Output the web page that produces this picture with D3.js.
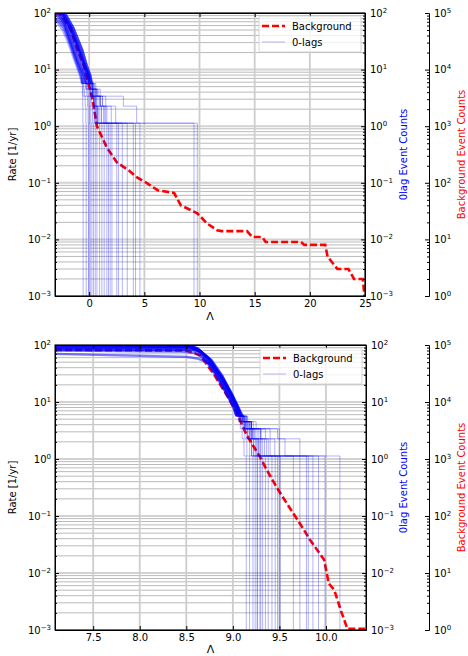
<!DOCTYPE html>
<html>
<head>
<meta charset="utf-8">
<script src="https://cdn.jsdelivr.net/npm/d3@7"></script>
<style>
  body { margin: 0; background: #fff; }
  text { font-family: "DejaVu Sans", sans-serif; }
</style>
</head>
<body>
<svg id="chart" width="468" height="656"></svg>
<script>
// ---- data ----
const rateTicks = [1e-3, 1e-2, 1e-1, 1e0, 1e1, 1e2];
const countTicks = [1e0, 1e1, 1e2, 1e3, 1e4, 1e5];
const plateauRates = [1.13, 2.26, 3.39, 4.52, 5.65]; // 1..5 zero-lag events
const floorRate = 1e-4; // zero events, falls off the log axis

// top panel
const topXDomain = [-3.1, 25];
const topXTicks = [0, 5, 10, 15, 20, 25];
const topBgLambda = [-3.1, -2.6, -1.7, -1.1, -0.5, -0.1, 0.3, 0.7, 1.6, 2.5, 3.6, 4.3, 5.2, 6.2, 7.7, 8.3, 9.8, 10.7, 11.6, 12.0, 14.3, 14.8, 15.7, 16.0, 19.2, 19.5, 21.4, 21.6, 22.5, 23.5, 24.0, 24.8, 25.0];
const topBgRate = [100, 95, 52, 23, 12, 6, 3, 1.0, 0.42, 0.23, 0.165, 0.126, 0.10, 0.074, 0.066, 0.04, 0.029, 0.019, 0.0145, 0.014, 0.014, 0.011, 0.011, 0.009, 0.009, 0.008, 0.008, 0.005, 0.003, 0.003, 0.002, 0.002, 0.0008];
const topBandLambda = [
  [-3.1, -2.75, -2.3, -1.8, -1.2, -0.75],
  [-3.1, -2.85, -2.25, -1.7, -1.1, -0.62],
  [-3.1, -2.8, -2.2, -1.6, -1.0, -0.5],
  [-3.1, -2.65, -2.0, -1.35, -0.75, -0.35],
  [-3.1, -2.5, -1.8, -1.1, -0.5, -0.15],
  [-3.1, -2.4, -1.65, -0.95, -0.4, -0.05],
  [-3.1, -2.2, -1.43, -0.66, -0.21, 0.09],
  [-3.1, -2.9, -2.4, -1.9, -1.3, -0.85]
];
const topBandRate = [
  [80, 70, 55, 31, 14, 8],
  [95, 85, 60, 30, 14, 8],
  [105, 95, 62, 30, 13.5, 8],
  [110, 98, 60, 28, 13, 8],
  [115, 100, 58, 27, 12.5, 8],
  [118, 100, 56, 25, 12, 8],
  [120, 100, 54, 23, 11.5, 8],
  [75, 68, 50, 30, 14, 8]
];
const topLagBand = [7, 1, 2, 3, 4, 5, 6, 5, 4, 3, 6, 0, 4, 2, 6, 5, 3, 1, 5, 0, 4, 6, 2, 5];
const topLagKnee = [-0.65, -0.6, -0.4, -0.3, -0.05, 0.0, 0.2, 0.25, 0.0, -0.3, 0.2, -0.6, -0.05, -0.35, 0.25, 0.0, -0.3, -0.6, 0.2, -0.6, 0.0, 0.3, -0.3, 0.05];
const topLagDrops = [
  [-0.63, -0.61, -0.59, -0.57, -0.55],
  [-0.5, -0.42, -0.36, -0.3, -0.27],
  [-0.3, -0.22, -0.15, -0.1, -0.06],
  [-0.2, -0.1, -0.02, 0.04, 0.09],
  [0.0, 0.05, 0.1, 0.15, 0.24],
  [0.05, 0.12, 0.2, 0.3, 0.39],
  [0.25, 0.3, 0.38, 0.45, 0.55],
  [0.3, 0.38, 0.45, 0.5, 0.7],
  [0.15, 0.3, 0.45, 0.6, 0.94],
  [0.0, 0.2, 0.4, 0.6, 1.15],
  [0.3, 0.45, 0.6, 0.75, 1.36],
  [-0.3, 0.1, 0.4, 0.7, 1.75],
  [0.2, 0.45, 0.6, 0.8, 1.9],
  [0.1, 0.3, 0.5, 0.7, 2.06],
  [0.5, 0.7, 0.9, 1.1, 2.5],
  [0.3, 0.6, 1.0, 1.4, 2.66],
  [0.2, 0.6, 1.2, 1.6, 3.45],
  [-0.2, 0.3, 0.6, 0.9, 4.0],
  [0.4, 0.7, 1.0, 1.3, 4.2],
  [-0.57, -0.55, 3.1, 4.3, 9.5],
  [0.3, 0.6, 1.0, 2.0, 9.8],
  [0.6, 1.0, 1.5, 2.4, 4.6],
  [0.0, 0.4, 0.7, 1.1, 3.0],
  [0.4, 0.8, 1.2, 1.5, 1.6]
];

// bottom panel
const botXDomain = [7.09, 10.43];
const botXTicks = [7.5, 8.0, 8.5, 9.0, 9.5, 10.0];
const botBgLambda = [7.09, 8.5, 8.65, 8.8, 8.95, 9.05, 9.15, 9.29, 9.365, 9.47, 9.58, 9.72, 9.83, 9.98, 10.03, 10.09, 10.16, 10.23, 10.43];
const botBgRate = [82, 80, 66, 30, 12, 6, 2.6, 1.1, 0.64, 0.32, 0.166, 0.074, 0.038, 0.017, 0.0066, 0.005, 0.0022, 0.00105, 0.00105];
const botBandLambda = [
  [7.09, 8.48, 8.58, 8.68, 8.8, 8.92, 9.0],
  [7.09, 8.5, 8.6, 8.7, 8.82, 8.93, 9.01],
  [7.09, 8.52, 8.62, 8.72, 8.84, 8.95, 9.03],
  [7.09, 8.54, 8.63, 8.74, 8.86, 8.97, 9.04],
  [7.09, 8.55, 8.64, 8.75, 8.87, 8.98, 9.05],
  [7.09, 8.56, 8.66, 8.77, 8.89, 8.99, 9.06],
  [7.09, 8.5, 8.62, 8.78, 8.9, 9.0, 9.07],
  [7.09, 8.45, 8.6, 8.72, 8.85, 8.96, 9.04]
];
const botBandRate = [
  [104, 100, 92, 62, 32, 15, 8.5],
  [101, 98, 90, 61, 31, 14.5, 8.2],
  [98, 95, 88, 60, 30, 14, 8],
  [95, 92, 84, 58, 30, 14, 8],
  [90, 88, 80, 56, 29, 14, 8],
  [84, 82, 76, 54, 28, 13.5, 7.8],
  [70, 62, 58, 45, 25, 13, 7.5],
  [80, 77, 72, 52, 28, 13.5, 8]
];
const botLagBand = [0, 1, 2, 3, 4, 5, 6, 5, 1, 2, 4, 4, 3, 5, 0, 2, 4, 7, 1, 3, 5, 6, 7, 3];
const botLagKnee = [9.04, 9.04, 9.06, 9.07, 9.08, 9.09, 9.1, 9.11, 9.04, 9.06, 9.08, 9.1, 9.06, 9.08, 9.04, 9.07, 9.09, 9.11, 9.04, 9.06, 9.08, 9.1, 9.05, 9.07];
const botLagDrops = [
  [9.06, 9.08, 9.1, 9.12, 9.144],
  [9.07, 9.1, 9.13, 9.15, 9.18],
  [9.09, 9.12, 9.15, 9.18, 9.216],
  [9.1, 9.13, 9.16, 9.2, 9.24],
  [9.11, 9.14, 9.18, 9.22, 9.265],
  [9.12, 9.16, 9.2, 9.24, 9.29],
  [9.13, 9.17, 9.21, 9.26, 9.32],
  [9.15, 9.19, 9.23, 9.28, 9.35],
  [9.08, 9.13, 9.19, 9.25, 9.38],
  [9.1, 9.15, 9.21, 9.27, 9.42],
  [9.12, 9.18, 9.24, 9.3, 9.455],
  [9.15, 9.2, 9.26, 9.32, 9.48],
  [9.1, 9.16, 9.35, 9.45, 9.5],
  [9.12, 9.2, 9.48, 9.5, 9.51],
  [9.08, 9.14, 9.22, 9.3, 9.65],
  [9.12, 9.2, 9.3, 9.36, 9.72],
  [9.14, 9.25, 9.5, 9.56, 9.79],
  [9.16, 9.22, 9.3, 9.4, 9.81],
  [9.07, 9.12, 9.2, 9.28, 9.86],
  [9.1, 9.2, 9.4, 9.72, 9.92],
  [9.12, 9.18, 9.28, 9.34, 9.99],
  [9.14, 9.2, 9.3, 9.38, 10.15],
  [9.08, 9.12, 9.16, 9.2, 9.3],
  [9.1, 9.14, 9.18, 9.22, 9.26]
];

// ---- drawing ----
const svg = d3.select("#chart");

// steep part of a 0-lag curve (fine staircase, drawn heavier)
function bandPoints(bx, by, knee) {
  const pts = bx.map((v, i) => [v, by[i]]);
  pts.push([knee, plateauRates[4]]);
  return pts;
}

// last few events: visible steps, then drop to zero
function tailPoints(knee, drops) {
  const pts = [[knee, plateauRates[4]]];
  for (let k = 4; k >= 0; k--) {
    const d = drops[4 - k];
    pts.push([d, plateauRates[k]]);
    pts.push([d, k > 0 ? plateauRates[k - 1] : floorRate]);
  }
  return pts;
}

function supLabel(sel) {
  sel.selectAll(".tick text").each(function(d) {
    const e = Math.round(Math.log10(d));
    const t = d3.select(this).text("10");
    t.append("tspan").attr("dy", "-0.55em").attr("font-size", "7px")
      .text(e < 0 ? "\u2212" + (-e) : e);
  });
}

function drawPanel(p, id) {
  const x = d3.scaleLinear().domain(p.xDomain).range([p.left, p.right]);
  const y = d3.scaleLog().domain([1e-3, 1e2]).range([p.bottom, p.top]);
  const yc = d3.scaleLog().domain([1, 1e5]).range([p.bottom, p.top]);
  const g = svg.append("g");

  // grid
  const minor = y.ticks().filter(v => !rateTicks.some(m => Math.abs(v - m) / m < 1e-6));
  g.selectAll(".gmin").data(minor).join("line")
    .attr("x1", p.left).attr("x2", p.right)
    .attr("y1", d => y(d)).attr("y2", d => y(d))
    .attr("stroke", "#a8a8a8").attr("stroke-width", 0.8);
  g.selectAll(".gmaj").data(rateTicks).join("line")
    .attr("x1", p.left).attr("x2", p.right)
    .attr("y1", d => y(d)).attr("y2", d => y(d))
    .attr("stroke", "#d2d2d2").attr("stroke-width", 2);
  g.selectAll(".gx").data(p.xTicks).join("line")
    .attr("x1", d => x(d)).attr("x2", d => x(d))
    .attr("y1", p.top).attr("y2", p.bottom)
    .attr("stroke", "#cdcdcd").attr("stroke-width", 1.8);

  svg.append("clipPath").attr("id", id)
    .append("rect").attr("x", p.left).attr("y", p.top)
    .attr("width", p.right - p.left).attr("height", p.bottom - p.top);
  const plot = g.append("g").attr("clip-path", `url(#${id})`);
  const line = d3.line().x(d => x(d[0])).y(d => y(d[1]));

  plot.append("path")
    .attr("d", line(p.bgLambda.map((v, i) => [v, p.bgRate[i]])))
    .attr("fill", "none").attr("stroke", "#ff0000")
    .attr("stroke-width", 2.6).attr("stroke-dasharray", "7,3");

  p.lagBand.forEach((b, i) => {
    plot.append("path")
      .attr("d", line(bandPoints(p.bandLambda[b], p.bandRate[b], p.lagKnee[i])))
      .attr("fill", "none").attr("stroke", "#0000ff")
      .attr("stroke-opacity", 0.3).attr("stroke-width", 2.4)
      .attr("stroke-linejoin", "round");
    plot.append("path")
      .attr("d", line(tailPoints(p.lagKnee[i], p.lagDrops[i])))
      .attr("fill", "none").attr("stroke", "#0000ff")
      .attr("stroke-opacity", 0.3).attr("stroke-width", 1);
  });

  // frame
  g.append("rect").attr("x", p.left).attr("y", p.top)
    .attr("width", p.right - p.left).attr("height", p.bottom - p.top)
    .attr("fill", "none").attr("stroke", "#000").attr("stroke-width", 1);

  const axes = g.append("g").attr("font-size", 10);
  const mk = (a) => a.tickSizeOuter(0);
  // left
  axes.append("g").attr("transform", `translate(${p.left},0)`)
    .call(mk(d3.axisLeft(y).tickValues(rateTicks).tickSize(-4).tickPadding(4)))
    .call(supLabel);
  axes.append("g").attr("transform", `translate(${p.left},0)`)
    .call(mk(d3.axisLeft(y).tickValues(minor).tickSize(-2).tickFormat("")));
  // right (rate, twin)
  axes.append("g").attr("transform", `translate(${p.right},0)`)
    .call(mk(d3.axisRight(y).tickValues(rateTicks).tickSize(-4).tickPadding(5)))
    .call(supLabel);
  axes.append("g").attr("transform", `translate(${p.right},0)`)
    .call(mk(d3.axisRight(y).tickValues(minor).tickSize(-2).tickFormat("")));
  // bottom / top
  axes.append("g").attr("transform", `translate(0,${p.bottom})`)
    .call(mk(d3.axisBottom(x).tickValues(p.xTicks).tickSize(-4).tickPadding(4)
      .tickFormat(p.xFormat)));
  axes.append("g").attr("transform", `translate(0,${p.top})`)
    .call(mk(d3.axisTop(x).tickValues(p.xTicks).tickSize(-4).tickFormat("")));
  // far right: background counts
  const cMinor = yc.ticks().filter(v => !countTicks.some(m => Math.abs(v - m) / m < 1e-6));
  axes.append("g").attr("transform", `translate(${p.spine2},0)`)
    .call(mk(d3.axisRight(yc).tickValues(countTicks).tickSize(-4).tickPadding(5)))
    .call(supLabel);
  axes.append("g").attr("transform", `translate(${p.spine2},0)`)
    .call(mk(d3.axisRight(yc).tickValues(cMinor).tickSize(-2).tickFormat("")));
  axes.selectAll(".tick text").attr("fill", "#000");

  // axis labels
  const cy = (p.top + p.bottom) / 2;
  g.append("text").attr("transform", `translate(16,${cy}) rotate(-90)`)
    .attr("text-anchor", "middle").attr("font-size", 10).text("Rate [1/yr]");
  g.append("text").attr("x", (p.left + p.right) / 2).attr("y", p.labelY)
    .attr("text-anchor", "middle").attr("font-size", 11).text("\u039b");
  g.append("text").attr("transform", `translate(407,${cy}) rotate(-90)`)
    .attr("text-anchor", "middle").attr("font-size", 10).attr("fill", "#0000ff")
    .text("0lag Event Counts");
  g.append("text").attr("transform", `translate(465,${cy}) rotate(-90)`)
    .attr("text-anchor", "middle").attr("font-size", 10).attr("fill", "#ff0000")
    .text("Background Event Counts");

  // legend
  const lx = p.right - 106, ly = p.top + 3;
  const lg = g.append("g").attr("transform", `translate(${lx},${ly})`);
  lg.append("rect").attr("width", 102).attr("height", 36).attr("rx", 2)
    .attr("fill", "#fff").attr("fill-opacity", 0.8)
    .attr("stroke", "#cccccc").attr("stroke-width", 0.8);
  lg.append("line").attr("x1", 3).attr("x2", 26).attr("y1", 10).attr("y2", 10)
    .attr("stroke", "#ff0000").attr("stroke-width", 2.6).attr("stroke-dasharray", "7,3");
  lg.append("text").attr("x", 33).attr("y", 13.5).attr("font-size", 10).text("Background");
  lg.append("line").attr("x1", 3).attr("x2", 26).attr("y1", 26).attr("y2", 26)
    .attr("stroke", "#0000ff").attr("stroke-opacity", 0.3).attr("stroke-width", 1);
  lg.append("text").attr("x", 33).attr("y", 29.5).attr("font-size", 10).text("0-lags");
}

drawPanel({
  left: 55, right: 365, top: 13, bottom: 296, spine2: 429, labelY: 320,
  xDomain: topXDomain, xTicks: topXTicks, xFormat: d3.format("d"),
  bgLambda: topBgLambda, bgRate: topBgRate,
  bandLambda: topBandLambda, bandRate: topBandRate,
  lagBand: topLagBand, lagKnee: topLagKnee, lagDrops: topLagDrops
}, "clipTop");

drawPanel({
  left: 55, right: 366, top: 345, bottom: 630, spine2: 429, labelY: 653,
  xDomain: botXDomain, xTicks: botXTicks, xFormat: d3.format(".1f"),
  bgLambda: botBgLambda, bgRate: botBgRate,
  bandLambda: botBandLambda, bandRate: botBandRate,
  lagBand: botLagBand, lagKnee: botLagKnee, lagDrops: botLagDrops
}, "clipBot");
</script>
</body>
</html>
